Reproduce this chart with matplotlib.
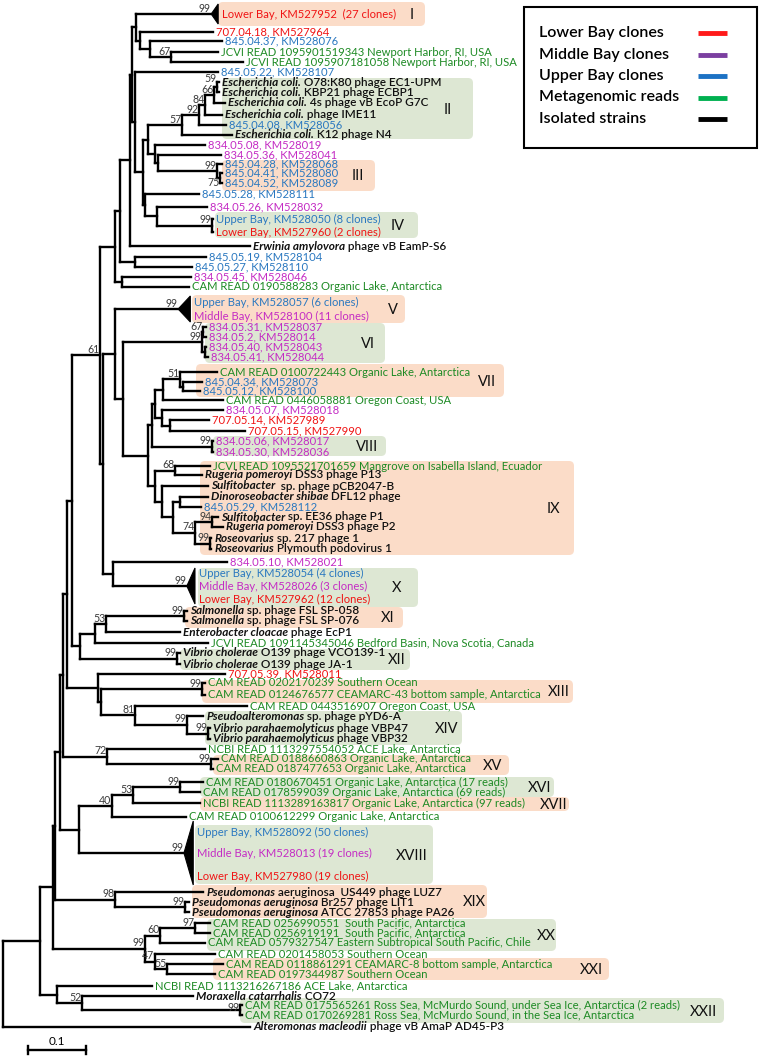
import matplotlib.pyplot as plt
from matplotlib.collections import LineCollection
from matplotlib.patches import FancyBboxPatch, Polygon, Rectangle

plt.rcParams['font.family'] = ['Lato', 'DejaVu Sans']

# ---- leaves (top to bottom); *text* = italic part ----
leaf_labels = [
    '', '707.04.18, KM527964', '845.04.37, KM528076',
    'JCVI READ 1095901519343 Newport Harbor, RI, USA',
    'JCVI READ 1095907181058 Newport Harbor, RI, USA',
    '845.05.22, KM528107',
    '*Escherichia coli.* O78:K80 phage EC1-UPM',
    '*Escherichia coli.* KBP21 phage ECBP1',
    '*Escherichia coli.* 4s phage vB EcoP G7C',
    '*Escherichia coli.* phage IME11',
    '845.04.08, KM528056',
    '*Escherichia coli.* K12 phage N4',
    '834.05.08, KM528019', '834.05.36, KM528041',
    '845.04.28, KM528068', '845.04.41, KM528080', '845.04.52, KM528089',
    '845.05.28, KM528111', '834.05.26, KM528032',
    'Upper Bay, KM528050 (8 clones)', 'Lower Bay, KM527960 (2 clones)',
    '*Erwinia amylovora* phage vB EamP-S6',
    '845.05.19, KM528104', '845.05.27, KM528110', '834.05.45, KM528046',
    'CAM READ 0190588283 Organic Lake, Antarctica',
    '',
    '834.05.31, KM528037', '834.05.2, KM528014', '834.05.40, KM528043', '834.05.41, KM528044',
    'CAM READ 0100722443 Organic Lake, Antarctica',
    '845.04.34, KM528073', '845.05.12, KM528100',
    'CAM READ 0446058881 Oregon Coast, USA',
    '834.05.07, KM528018', '707.05.14, KM527989', '707.05.15, KM527990',
    '834.05.06, KM528017', '834.05.30, KM528036',
    'JCVI READ 1095521701659 Mangrove on Isabella Island, Ecuador',
    '*Rugeria pomeroyi* DSS3 phage P13',
    '*Sulfitobacter*  sp. phage pCB2047-B',
    '*Dinoroseobacter shibae* DFL12 phage',
    '845.05.29, KM528112',
    '*Sulfitobacter* sp. EE36 phage P1',
    '*Rugeria pomeroyi* DSS3 phage P2',
    '*Roseovarius* sp. 217 phage 1',
    '*Roseovarius* Plymouth podovirus 1',
    '834.05.10, KM528021',
    '',
    '*Salmonella* sp. phage FSL SP-058',
    '*Salmonella* sp. phage FSL SP-076',
    '*Enterobacter cloacae* phage EcP1',
    'JCVI READ 1091145345046 Bedford Basin, Nova Scotia, Canada',
    '*Vibrio cholerae* O139 phage VCO139-1',
    '*Vibrio cholerae* O139 phage JA-1',
    '707.05.39, KM528011',
    'CAM READ 0202170239 Southern Ocean',
    'CAM READ 0124676577 CEAMARC-43 bottom sample, Antarctica',
    'CAM READ 0443516907 Oregon Coast, USA',
    '*Pseudoalteromonas* sp. phage pYD6-A',
    '*Vibrio parahaemolyticus* phage VBP47',
    '*Vibrio parahaemolyticus* phage VBP32',
    'NCBI READ 1113297554052 ACE Lake, Antarctica',
    'CAM READ 0188660863 Organic Lake, Antarctica',
    'CAM READ 0187477653 Organic Lake, Antarctica',
    'CAM READ 0180670451 Organic Lake, Antarctica (17 reads)',
    'CAM READ 0178599039 Organic Lake, Antarctica (69 reads)',
    'NCBI READ 1113289163817 Organic Lake, Antarctica (97 reads)',
    'CAM READ 0100612299 Organic Lake, Antarctica',
    '',
    '*Pseudomonas* aeruginosa  US449 phage LUZ7',
    '*Pseudomonas aeruginosa* Br257 phage LIT1',
    '*Pseudomonas aeruginosa* ATCC 27853 phage PA26',
    'CAM READ 0256990551  South Pacific, Antarctica',
    'CAM READ 0256919191  South Pacific, Antarctica',
    'CAM READ 0579327547 Eastern Subtropical South Pacific, Chile',
    'CAM READ 0201458053 Southern Ocean',
    'CAM READ 0118861291 CEAMARC-8 bottom sample, Antarctica',
    'CAM READ 0197344987 Southern Ocean',
    'NCBI READ 1113216267186 ACE Lake, Antarctica',
    '*Moraxella catarrhalis* CO72',
    'CAM READ 0175565261 Ross Sea, McMurdo Sound, under Sea Ice, Antarctica (2 reads)',
    'CAM READ 0170269281 Ross Sea, McMurdo Sound, in the Sea Ice, Antarctica',
    '*Alteromonas macleodii* phage vB AmaP AD45-P3',
]
leaf_group = list('LLURRUSSSSUSMMUUUUMULSUUMRUMMMMRUURMLLMMRSSSUSSSSMUSSSRSSLRRRSSSRRRRRRRUSSSRRRRRRRSRRS')
leaf_y = [14, 32, 41, 52, 62, 72, 82, 92, 103, 115, 125, 135, 145, 155, 164, 173, 183, 194, 207,
          219, 232, 246, 257, 267, 277, 287, 309, 327, 337, 347, 357, 372, 382, 391, 400, 410,
          420, 431, 441, 452, 466, 475, 486, 497, 507, 517, 527, 538, 549, 562, 586, 611, 621,
          632, 643, 653, 664, 674, 683, 695, 706, 716, 728, 739, 749, 759, 769, 782, 792, 803,
          817, 853, 892, 902, 912, 923, 933, 943, 954, 964, 974, 986, 996, 1005, 1015, 1027]
leaf_depth = [0.359, 0.362, 0.378, 0.371, 0.414, 0.371, 0.372, 0.372, 0.383, 0.378, 0.384, 0.395,
              0.348, 0.376, 0.378, 0.378, 0.378, 0.338, 0.352, 0.362, 0.362, 0.426, 0.350, 0.326,
              0.324, 0.321, 0.302, 0.350, 0.350, 0.350, 0.353, 0.369, 0.343, 0.340, 0.379, 0.379,
              0.355, 0.417, 0.362, 0.362, 0.357, 0.343, 0.353, 0.353, 0.341, 0.371, 0.379, 0.359,
              0.359, 0.386, 0.317, 0.317, 0.317, 0.305, 0.353, 0.305, 0.305, 0.383, 0.348, 0.348,
              0.421, 0.345, 0.357, 0.357, 0.348, 0.371, 0.362, 0.345, 0.340, 0.340, 0.316, 0.312,
              0.345, 0.321, 0.321, 0.357, 0.357, 0.348, 0.366, 0.379, 0.366, 0.257, 0.328, 0.412,
              0.412, 0.426]

# ---- collapsed clades ----
collapsed_leaf = [0, 26, 50, 71]
collapsed_width = [0.012, 0.021, 0.014, 0.016]
collapsed_half = [10, 13, 18, 32]
collapsed_labels = [
    ['Lower Bay, KM527952  (27 clones)'],
    ['Upper Bay, KM528057 (6 clones)', 'Middle Bay, KM528100 (11 clones)'],
    ['Upper Bay, KM528054 (4 clones)', 'Middle Bay, KM528026 (3 clones)', 'Lower Bay, KM527962 (12 clones)'],
    ['Upper Bay, KM528092 (50 clones)', 'Middle Bay, KM528013 (19 clones)', 'Lower Bay, KM527980 (19 clones)'],
]
collapsed_groups = [['L'], ['U', 'M'], ['U', 'M', 'L'], ['U', 'M', 'L']]
collapsed_label_y = [[14], [302, 316], [573, 586, 599], [832, 853, 876]]

# ---- internal nodes: name, depth, children, bootstrap ----
node_names = ['nJC', 'nA', 'nB', 'nC', 'n59', 'n66', 'n84', 'n92', 'n57', 'n75', 'n99a', 'nD2', 'nD1',
              'nC1', 'nIV', 'nE1', 'nC2', 'nBn', 'nP2', 'nP1', 'nP0', 'nJ', 'nF', 'nH', 'nG',
              'n67', 'nVIa', 'n99vi', 'n51b', 'n51', 'nVII', 'n707', 'n834', 'n155', 'nVIII', 'n152',
              'n68', 'ndino', 'n94', 'n99r', 'n74', 'nx', 'ny', 'nIX', 'n148', 'n123', 'n115', 'n113',
              'nL', 'nK', 'nSal', 'n53', 'n95', 'nVch', 'nY80', 'nXIII', 'n99v', 'n99p', 'n81', 'n101',
              'nY98', 'nA72', 'nA67', 'nXV', 'n72', 'nA63', 'n99c', 'n53b', 'n40', 'n79', 'nA60',
              'nPs', 'n98', 'nA55', 'n97', 'n60', 'n55', 'n47', 'n99s', 'nA53', 'nRoss', 'n52',
              'nLow', 'nIn', 'root']
node_depth = [0.290, 0.253, 0.236, 0.229, 0.369, 0.364, 0.348, 0.338, 0.309, 0.374, 0.369, 0.267, 0.262,
              0.250, 0.360, 0.266, 0.245, 0.241, 0.228, 0.222, 0.219, 0.228, 0.202, 0.205, 0.193,
              0.345, 0.348, 0.343, 0.310, 0.305, 0.276, 0.288, 0.274, 0.262, 0.360, 0.257,
              0.297, 0.305, 0.360, 0.357, 0.331, 0.293, 0.274, 0.262, 0.250, 0.207, 0.193, 0.190,
              0.172, 0.167, 0.312, 0.178, 0.159, 0.300, 0.133, 0.343, 0.353, 0.317, 0.228, 0.169,
              0.164, 0.119, 0.110, 0.359, 0.179, 0.103, 0.305, 0.224, 0.188, 0.131, 0.098,
              0.314, 0.193, 0.090, 0.331, 0.271, 0.283, 0.262, 0.245, 0.086, 0.409, 0.136,
              0.093, 0.064, 0.000]
node_children = [[3, 4], [2, 'nJC'], [1, 'nA'], [0, 'nB'], [6, 7], ['n59', 8], ['n66', 9], ['n84', 10],
                 ['n92', 11], [15, 16], [14, 'n75'], [13, 'n99a'], [12, 'nD2'], ['n57', 'nD1'],
                 [19, 20], [18, 'nIV'], [17, 'nE1'], ['nC1', 'nC2'], [5, 'nBn'], ['nC', 'nP2'],
                 ['nP1', 21], [22, 23], ['nP0', 'nJ'], [24, 25], ['nF', 'nH'],
                 [27, 28], [29, 30], ['n67', 'nVIa'], [32, 33], [31, 'n51b'], ['n51', 34], [36, 37],
                 [35, 'n707'], ['nVII', 'n834'], [38, 39], ['n155', 'nVIII'],
                 [40, 41], [43, 44], [45, 46], [47, 48], ['n94', 'n99r'], ['ndino', 'n74'],
                 [42, 'nx'], ['n68', 'ny'], ['n152', 'nIX'], ['n99vi', 'n148'], [26, 'n123'],
                 [49, 50], ['n115', 'n113'], ['nG', 'nL'],
                 [51, 52], ['nSal', 53], ['n53', 54], [55, 56], ['n95', 'nVch'], [58, 59], [62, 63],
                 [61, 'n99v'], [60, 'n99p'], ['nXIII', 'n81'], [57, 'n101'], ['nK', 'nY80'],
                 ['nA72', 'nY98'], [65, 66], [64, 'nXV'], ['nA67', 'n72'], [67, 68], ['n99c', 69],
                 ['n53b', 70], ['n40', 71], ['nA63', 'n79'], [73, 74], [72, 'nPs'], ['nA60', 'n98'],
                 [75, 76], ['n97', 77], [79, 80], [78, 'n55'], ['n60', 'n47'], ['nA55', 'n99s'],
                 [83, 84], [82, 'nRoss'], [81, 'n52'], ['nA53', 'nLow'], ['nIn', 85]]
node_support = ['67', '', '', '', '59', '66', '84', '92', '57', '75', '99', '', '',
                '', '99', '', '', '', '', '', '', '', '', '', '',
                '67', '', '99', '', '51', '', '', '', '', '99', '',
                '68', '', '94', '99', '74', '', '', '', '', '', '', '',
                '', '61', '99', '53', '', '99', '', '99', '99', '99', '81', '',
                '', '', '', '99', '72', '', '99', '53', '40', '', '',
                '99', '98', '', '97', '60', '55', '47', '99', '', '99', '52',
                '', '', '']
support_below = ['n75']
support_nudge = {'n59': -2.5, 'nRoss': 3.5}

# ---- shaded clusters ----
box_names = ['I', 'II', 'III', 'IV', 'V', 'VI', 'VII', 'VIII', 'IX', 'X', 'XI', 'XII', 'XIII', 'XIV',
             'XV', 'XVI', 'XVII', 'XVIII', 'XIX', 'XX', 'XXI', 'XXII']
box_top = [2, 78, 160, 212, 295, 323, 364, 436, 461, 568, 607, 649, 680, 711, 755, 777, 797, 825,
           885, 919, 958, 998]
box_bottom = [26, 139, 191, 238, 323, 363, 397, 456, 555, 607, 628, 670, 703, 745, 775, 797, 811,
              884, 918, 951, 980, 1023]
box_left = [218, 222, 222, 215, 192, 205, 196, 213, 200, 198, 185, 180, 202, 205, 213, 200, 200, 195,
            192, 207, 213, 240]
box_right = [425, 473, 375, 418, 405, 385, 504, 386, 574, 418, 403, 410, 573, 462, 509, 554, 569, 433,
             487, 556, 609, 724]
box_label_x = [412, 448, 358, 398, 393, 368, 487, 367, 553, 397, 388, 397, 559, 447, 493, 540, 554,
               412, 474, 546, 591, 703]

legend_labels = ['Lower Bay clones', 'Middle Bay clones', 'Upper Bay clones', 'Metagenomic reads',
                 'Isolated strains']
legend_colors = ['#ff1a1a', '#7b3fa0', '#1c72c4', '#00b050', '#000000']

text_color = {'L': '#f01414', 'M': '#c42cc4', 'U': '#2a78c0', 'R': '#1d8a24', 'S': '#111111'}
box_color = ['#fbdcc8', '#dde7d3']

W, H = 760, 1057
ROOT_PX, PX_PER_UNIT = 3, 580.0
FS_COL = 8.1   # coloured labels
FS_STR = 8.5   # isolated strains
FS_BOOT = 7.6

fig = plt.figure(figsize=(W / 100, H / 100), dpi=100)
bg = fig.add_axes([0, 0, 1, 1])
bg.set_xlim(0, W)
bg.set_ylim(H, 0)
bg.axis('off')
ax = fig.add_axes([0, 0, 1, 1])
ax.set_xlim(-ROOT_PX / PX_PER_UNIT, (W - ROOT_PX) / PX_PER_UNIT)
ax.set_ylim(H, 0)
ax.axis('off')
px = 1 / PX_PER_UNIT

# shaded cluster boxes
for i, name in enumerate(box_names):
    fc = box_color[i % 2]
    bg.add_patch(FancyBboxPatch((box_left[i], box_top[i]), box_right[i] - box_left[i],
                                box_bottom[i] - box_top[i], boxstyle='round,pad=0,rounding_size=5',
                                fc=fc, ec='none', zorder=0))
    bg.text(box_label_x[i], (box_top[i] + box_bottom[i]) / 2 + 1, name, ha='center', va='center',
            fontsize=10.5, color='#111111')

# tree geometry
nodes = {n: (d, c) for n, d, c in zip(node_names, node_depth, node_children)}
ycache = {}


def ypos(k):
    if isinstance(k, int):
        return leaf_y[k]
    if k not in ycache:
        ch = nodes[k][1]
        ycache[k] = (ypos(ch[0]) + ypos(ch[-1])) / 2
    return ycache[k]


def depth(k):
    return leaf_depth[k] if isinstance(k, int) else nodes[k][0]


segs = []
for n in node_names:
    d, ch = nodes[n]
    segs.append([(d, ypos(ch[0])), (d, ypos(ch[-1]))])
    for c in ch:
        segs.append([(d, ypos(c)), (depth(c), ypos(c))])
ax.add_collection(LineCollection(segs, colors='black', linewidths=1.7, capstyle='projecting', zorder=3))

# bootstrap values
for n, s in zip(node_names, node_support):
    if not s:
        continue
    if n in support_below:
        ax.text(nodes[n][0] - 0.5 * px, ypos(n) + 5, s, ha='right', va='center', fontsize=FS_BOOT,
                color='#3a3a3a', zorder=4)
    else:
        ax.text(nodes[n][0] - 0.5 * px, ypos(n) - 0.3 + support_nudge.get(n, 0), s, ha='right',
                va='bottom', fontsize=FS_BOOT, color='#3a3a3a', zorder=4)


def draw_label(x, y, s, color):
    strain = color == text_color['S']
    fs = FS_STR if strain else FS_COL
    w = 'semibold' if strain else 'normal'
    if '*' in s:
        _, ital, rest = s.split('*')
        t = ax.text(x, y, ital, style='italic', color=color, fontsize=fs, fontweight='bold',
                    va='center', ha='left', zorder=4)
        ax.annotate(rest, xy=(1, 0), xycoords=t, va='bottom', ha='left', color=color, fontsize=fs,
                    fontweight=w, zorder=4)
    else:
        ax.text(x, y, s, color=color, fontsize=fs, fontweight=w, va='center', ha='left', zorder=4)


for i, s in enumerate(leaf_labels):
    if s:
        draw_label(leaf_depth[i] + 3 * px, leaf_y[i], s, text_color[leaf_group[i]])

# collapsed clades
for k, li in enumerate(collapsed_leaf):
    d, y = leaf_depth[li], leaf_y[li]
    w, h = collapsed_width[k], collapsed_half[k]
    ax.add_patch(Polygon([(d, y), (d + w, y - h), (d + w, y + h)], closed=True, fc='black', ec='black',
                         lw=0.8, zorder=3))
    ax.text(d - 0.5 * px, y - 0.3, '99', ha='right', va='bottom', fontsize=FS_BOOT, color='#3a3a3a', zorder=4)
    for lab, g, ly in zip(collapsed_labels[k], collapsed_groups[k], collapsed_label_y[k]):
        draw_label(d + w + 4 * px, ly, lab, text_color[g])

# scale bar
sb_x0, sb_y = 0.043, 1050
ax.plot([sb_x0, sb_x0 + 0.1], [sb_y, sb_y], color='black', lw=1.7)
for xx in (sb_x0, sb_x0 + 0.1):
    ax.plot([xx, xx], [sb_y - 4, sb_y + 4], color='black', lw=1.7)
ax.text(sb_x0 + 0.05, sb_y - 3, '0.1', ha='center', va='bottom', fontsize=8.5)

# legend
bg.add_patch(Rectangle((524, 7), 233, 141, fc='white', ec='black', lw=1.5, zorder=5))
for i, (lab, col) in enumerate(zip(legend_labels, legend_colors)):
    yy = 33 + i * 21.5
    bg.text(539, yy, lab, fontsize=11.5, fontweight='semibold', va='center', ha='left', zorder=6)
    bg.plot([698, 727], [yy, yy], color=col, lw=3.5, solid_capstyle='butt', zorder=6)

fig.savefig('out.png', dpi=100)
